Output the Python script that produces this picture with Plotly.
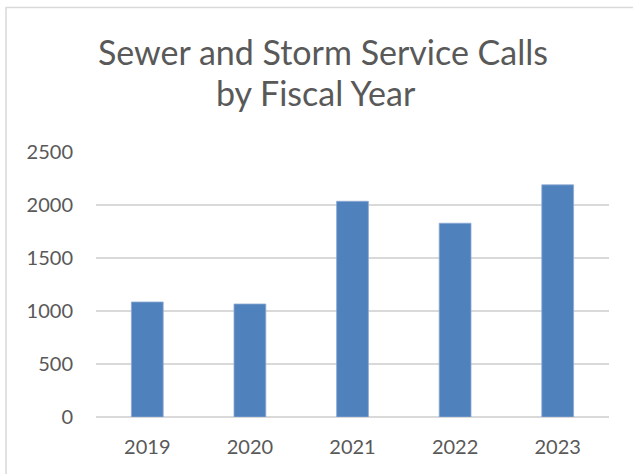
import plotly.graph_objects as go

# Service calls per fiscal year
years = ["2019", "2020", "2021", "2022", "2023"]
calls = [1085, 1066, 2035, 1828, 2190]

y_ticks = [0, 500, 1000, 1500, 2000, 2500]

title_lines = ["Sewer and Storm Service Calls", "by Fiscal Year"]

text_color = "#595959"
grid_color = "#D9D9D9"
bar_color = "#4F81BD"
font_family = "Lato, Carlito, Calibri, sans-serif"

# plot-area geometry in pixels, used to place the title and frame
L, R, T, B = 96, 24, 152, 57
W, H = 633, 474
pw, ph = W - L - R, H - T - B


def px_x(x):
    return (x - L) / pw


def px_y(y):
    return (H - B - y) / ph


fig = go.Figure(
    go.Bar(
        x=years,
        y=calls,
        marker=dict(color=bar_color, line=dict(color="#8EA9D3", width=0.8)),
        width=0.31,
    )
)

fig.update_layout(
    width=W,
    height=H,
    margin=dict(l=L, r=R, t=T, b=B),
    paper_bgcolor="white",
    plot_bgcolor="white",
    showlegend=False,
    font=dict(family=font_family, color=text_color, size=20),
    xaxis=dict(
        showgrid=False,
        showline=False,
        ticks="",
        ticklabelstandoff=16,
        tickfont=dict(size=20, color=text_color),
    ),
    yaxis=dict(
        range=[0, 2500],
        tickvals=y_ticks,
        showgrid=True,
        gridcolor=grid_color,
        gridwidth=1.5,
        zeroline=True,
        zerolinecolor=grid_color,
        zerolinewidth=1.5,
        showline=False,
        ticks="",
        ticklabelstandoff=22,
        tickfont=dict(size=20, color=text_color),
    ),
    annotations=[
        dict(
            text=title_lines[0],
            xref="paper", yref="paper",
            x=px_x(322.5), y=px_y(51),
            xanchor="center", yanchor="middle",
            showarrow=False,
            font=dict(family=font_family, size=34, color=text_color),
        ),
        dict(
            text=title_lines[1],
            xref="paper", yref="paper",
            x=px_x(316), y=px_y(92),
            xanchor="center", yanchor="middle",
            showarrow=False,
            font=dict(family=font_family, size=34, color=text_color),
        ),
    ],
    shapes=[
        # chart frame, left and top edges visible
        dict(
            type="rect",
            xref="paper",
            yref="paper",
            x0=px_x(6),
            x1=1.5,
            y0=-0.5,
            y1=px_y(7.5),
            line=dict(color=grid_color, width=1.5),
            fillcolor="rgba(0,0,0,0)",
            layer="below",
        )
    ],
)

fig.write_html("out.html")
